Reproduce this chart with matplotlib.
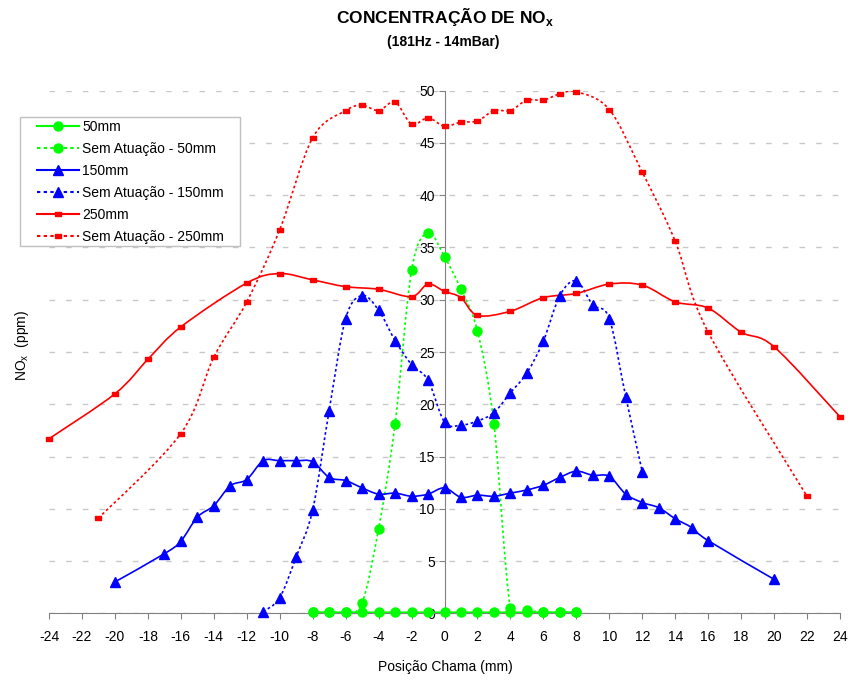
import matplotlib
matplotlib.use("Agg")
import matplotlib.pyplot as plt
from matplotlib.path import Path
from matplotlib.patches import PathPatch, Rectangle
from matplotlib.lines import Line2D
import numpy as np

plt.rcParams['font.family'] = ['Liberation Sans', 'DejaVu Sans']
plt.rcParams['axes.unicode_minus'] = False

# 50mm
x50 = [-8, -7, -6, -5, -4, -3, -2, -1, 0, 1, 2, 3, 4, 5, 6, 7, 8]
y50 = [0.1] * 17
# Sem Atuação - 50mm
x50s = [-8, -7, -6, -5, -4, -3, -2, -1, 0, 1, 2, 3, 4, 5, 6, 7, 8]
y50s = [0.1, 0.1, 0.1, 1.0, 8.1, 18.1, 32.8, 36.4, 34.1, 31.0, 27.0, 18.1, 0.5, 0.3, 0.1, 0.1, 0.1]
# 150mm
x150 = [-20, -17, -16, -15, -14, -13, -12, -11, -10, -9, -8, -7, -6, -5, -4, -3, -2, -1, 0,
        1, 2, 3, 4, 5, 6, 7, 8, 9, 10, 11, 12, 13, 14, 15, 16, 20]
y150 = [3.0, 5.7, 6.9, 9.2, 10.3, 12.2, 12.8, 14.6, 14.6, 14.6, 14.5, 13.0, 12.7, 12.0, 11.4, 11.5,
        11.2, 11.4, 12.0, 11.1, 11.3, 11.2, 11.5, 11.8, 12.25, 13.0, 13.6, 13.2, 13.1, 11.4, 10.6,
        10.1, 9.05, 8.2, 6.95, 3.25]
# Sem Atuação - 150mm
x150s = [-11, -10, -9, -8, -7, -6, -5, -4, -3, -2, -1, 0, 1, 2, 3, 4, 5, 6, 7, 8, 9, 10, 11, 12]
y150s = [0.15, 1.5, 5.4, 9.9, 19.4, 28.2, 30.4, 29.0, 26.1, 23.8, 22.3, 18.3, 18.0, 18.4, 19.2,
         21.1, 23.0, 26.05, 30.4, 31.8, 29.5, 28.2, 20.7, 13.55]
# 250mm
x250 = [-24, -20, -18, -16, -12, -10, -8, -6, -4, -2, -1, 0, 1, 2, 4, 6, 8, 10, 12, 14, 16, 18, 20, 24]
y250 = [16.7, 21.0, 24.3, 27.4, 31.6, 32.5, 31.9, 31.25, 31.0, 30.3, 31.5, 30.8, 30.2, 28.5, 28.9,
        30.2, 30.6, 31.5, 31.4, 29.8, 29.2, 26.9, 25.5, 18.8]
# Sem Atuação - 250mm
x250s = [-21, -16, -14, -12, -10, -8, -6, -5, -4, -3, -2, -1, 0, 1, 2, 3, 4, 5, 6, 7, 8, 10, 12, 14, 16, 22]
y250s = [9.1, 17.2, 24.5, 29.8, 36.7, 45.5, 48.1, 48.6, 48.1, 48.9, 46.8, 47.4, 46.6, 47.0, 47.1,
         48.1, 48.1, 49.1, 49.1, 49.7, 49.9, 48.2, 42.2, 35.6, 26.9, 11.2]


def smooth_path(xs, ys):
    # curva suavizada estilo Excel (Bezier / Catmull-Rom)
    p = np.column_stack([xs, ys]).astype(float)
    n = len(p)
    verts = [p[0]]
    codes = [Path.MOVETO]
    for i in range(n - 1):
        p0 = p[i - 1] if i > 0 else p[i]
        p3 = p[i + 2] if i + 2 < n else p[i + 1]
        c1 = p[i] + (p[i + 1] - p0) / 6.0
        c2 = p[i + 1] - (p3 - p[i]) / 6.0
        verts += [c1, c2, p[i + 1]]
        codes += [Path.CURVE4] * 3
    return Path(verts, codes)


rect = [(-1, -0.55), (1, -0.55), (1, 0.55), (-1, 0.55), (-1, -0.55)]
dotted = (0, (1.6, 1.6))

series = [
    (x50, y50, '#00ff00', '-', 'o', 6.5, '50mm'),
    (x50s, y50s, '#00ff00', dotted, 'o', 6.5, 'Sem Atuação - 50mm'),
    (x150, y150, '#0000ff', '-', '^', 7, '150mm'),
    (x150s, y150s, '#0000ff', dotted, '^', 7, 'Sem Atuação - 150mm'),
    (x250, y250, '#ff0000', '-', rect, 5, '250mm'),
    (x250s, y250s, '#ff0000', dotted, rect, 5, 'Sem Atuação - 250mm'),
]

fig = plt.figure(figsize=(8.51, 6.82), dpi=100)
ax = fig.add_axes([49 / 851, 1 - 613.3 / 682, (840 - 49) / 851, (613.3 - 90.7) / 682])
ax.set_xlim(-24, 24)
ax.set_ylim(0, 50)

handles = []
for xs, ys, c, ls, mk, ms, lab in series:
    ax.add_patch(PathPatch(smooth_path(xs, ys), fill=False, edgecolor=c, lw=1.2, linestyle=ls, zorder=3))
    ax.plot(xs, ys, ls='none', marker=mk, ms=ms, color=c, mec=c, zorder=4, clip_on=False)
    handles.append(Line2D([], [], color=c, lw=1.5, linestyle=ls, marker=mk, ms=ms, mec=c))

for s in ['top', 'right']:
    ax.spines[s].set_visible(False)
ax.spines['left'].set_position(('data', 0))
ax.spines['left'].set_color('#808080')
ax.spines['bottom'].set_color('#808080')
ax.spines['bottom'].set_zorder(2)

ax.set_xticks(np.arange(-24, 25, 2))
ax.set_yticks(np.arange(0, 51, 5))
ax.tick_params(axis='both', colors='#808080', labelcolor='black', labelsize=10, length=4, direction='out')
ax.tick_params(axis='x', pad=8)
ax.tick_params(axis='y', pad=3)
ax.yaxis.grid(True, color='#c8c8c8', linestyle=(0, (4, 8)), lw=1)
ax.set_axisbelow(True)

fig.text(445 / 851, 1 - 17 / 682, 'CONCENTRAÇÃO DE NO$_\\mathregular{x}$', ha='center', va='center',
         fontsize=12.5, fontweight='bold')
fig.text(443 / 851, 1 - 42 / 682, '(181Hz - 14mBar)', ha='center', va='center',
         fontsize=10, fontweight='bold')
fig.text(445 / 851, 1 - 667 / 682, 'Posição Chama (mm)', ha='center', va='center', fontsize=10)
fig.text(22 / 851, 1 - 345 / 682, 'NO$_\\mathregular{x}$  (ppm)', ha='center', va='center',
         rotation=90, fontsize=10)

# caixa da legenda
fig.patches.append(Rectangle((20 / 851, 1 - 246 / 682), 220 / 851, 129 / 682, transform=fig.transFigure,
                             facecolor='white', edgecolor='#c0c0c0', lw=1, zorder=5))
leg = fig.legend(handles, [s[6] for s in series], loc='upper left',
                 bbox_to_anchor=(37 / 851, 1 - 120 / 682), borderaxespad=0, fontsize=10,
                 frameon=False, handlelength=3.0, labelspacing=0.58,
                 borderpad=0, handletextpad=0.25)
leg.set_zorder(6)

fig.savefig('out.png', dpi=100)
